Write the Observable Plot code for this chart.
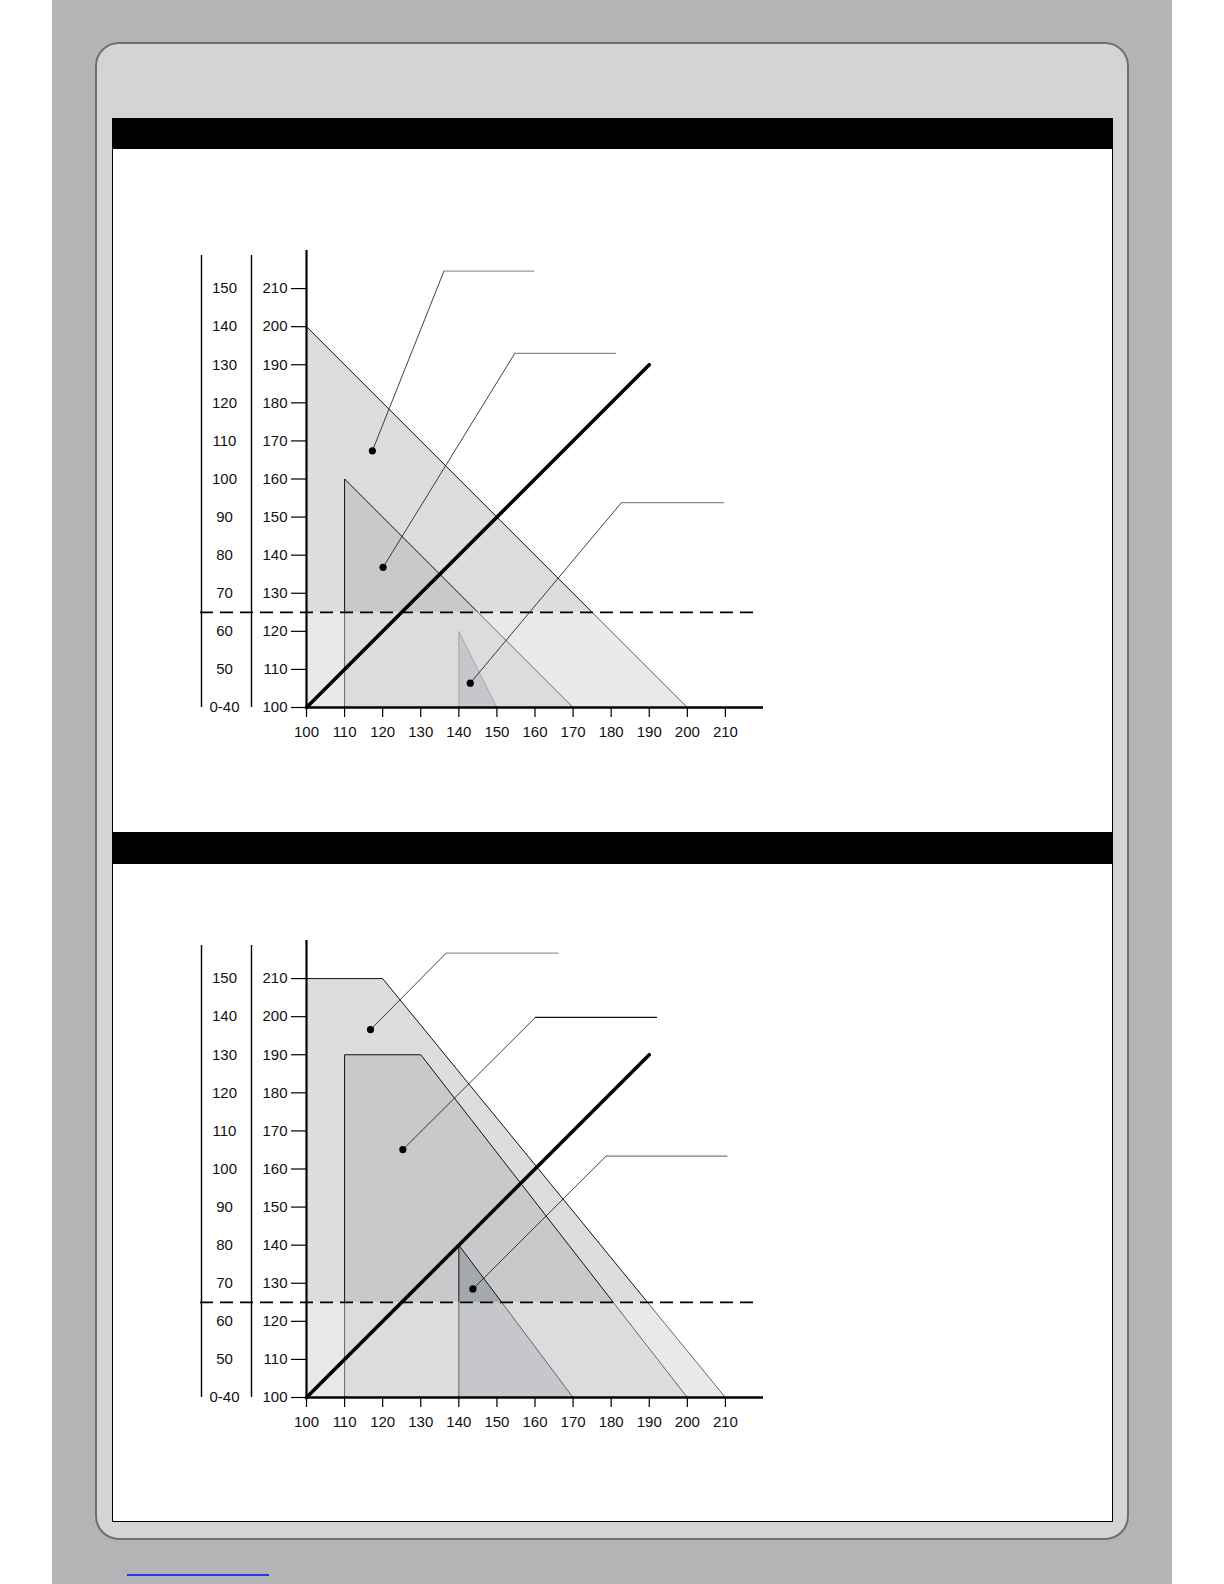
<!DOCTYPE html>
<html>
<head>
<meta charset="utf-8">
<script src="https://cdn.jsdelivr.net/npm/d3@7"></script>
<script src="https://cdn.jsdelivr.net/npm/@observablehq/plot@0.6"></script>
<style>
  html, body { margin: 0; padding: 0; background: #ffffff; }
  body { width: 1224px; height: 1584px; position: relative; overflow: hidden; font-family: "Liberation Sans", Arial, Helvetica, sans-serif; }
  .abs { position: absolute; box-sizing: border-box; }
  #page { left: 52px; top: 0; width: 1120px; height: 1584px; background: #b3b4b5; }
  #panel { left: 95px; top: 42px; width: 1034px; height: 1498px; background: #d3d4d6; border: 2.5px solid #6e6f71; border-radius: 24px; }
  .bar { left: 112px; width: 1001px; height: 31px; background: #000; }
  .white { left: 112px; width: 1001px; background: #fff; border: 1px solid #000; border-top: none; }
  #link { left: 127px; top: 1574px; width: 142px; height: 1.5px; background: #2a36e8; }
  .chart { position: absolute; }
</style>
</head>
<body>
<div class="abs" id="page"></div>
<div class="abs" id="panel"></div>
<div class="abs bar" style="top:118px"></div>
<div class="abs white" style="top:149px;height:684px"></div>
<div class="abs bar" style="top:833px"></div>
<div class="abs white" style="top:864px;height:658px"></div>
<div class="abs" id="link"></div>
<div class="chart" id="chart1" style="left:150px;top:230px"></div>
<div class="chart" id="chart2" style="left:150px;top:920px"></div>
<script>
// ---- shared axis data ----
const xTicks = [100, 110, 120, 130, 140, 150, 160, 170, 180, 190, 200, 210];
const yTicks = [100, 110, 120, 130, 140, 150, 160, 170, 180, 190, 200, 210];
const leftLabels = ["0-40", "50", "60", "70", "80", "90", "100", "110", "120", "130", "140", "150"];
const axisMin = 100;
const axisMax = 220;
const limitValue = 125;
const dashEnd = 218;
const diagonal = [[100, 100], [190, 190]];

// ---- chart 1 zones ----
const c1Large = [[100, 100], [100, 200], [200, 100], [100, 100]];
const c1Medium = [[110, 100], [110, 160], [170, 100], [110, 100]];
const c1Small = [[140, 100], [140, 120], [150, 100], [140, 100]];
const c1Callouts = [
  { dot: [117.3, 167.4], elbow: [136.1, 214.6], end: 159.7, color: "#9a9a9a" },
  { dot: [120.1, 136.8], elbow: [154.7, 193.0], end: 181.1, color: "#8a8a8a" },
  { dot: [143.0, 106.4], elbow: [182.7, 153.8], end: 209.5, color: "#8a8a8a" }
];

// ---- chart 2 zones ----
const c2Large = [[100, 100], [100, 210], [120, 210], [210, 100], [100, 100]];
const c2Medium = [[110, 100], [110, 190], [130, 190], [200, 100], [110, 100]];
const c2Small = [[140, 100], [140, 140], [170, 100], [140, 100]];
const c2Callouts = [
  { dot: [116.8, 196.6], elbow: [136.7, 216.7], end: 166.1, color: "#9a9a9a" },
  { dot: [125.3, 165.1], elbow: [160.1, 199.8], end: 191.9, color: "#111111" },
  { dot: [143.7, 128.5], elbow: [178.7, 163.4], end: 210.4, color: "#7a7a7a" }
];

const zoneFills = ["#dcdddf", "#c8c9cb", "#a5a8ac"];

function zoneMarks(poly, fill, stroke) {
  return Plot.line(poly, {x: d => d[0], y: d => d[1], fill, stroke, strokeWidth: 1, curve: "linear"});
}

function calloutMarks(callouts) {
  const marks = [];
  callouts.forEach((c) => {
    marks.push(Plot.line([c.dot, c.elbow], {x: d => d[0], y: d => d[1], stroke: "#111", strokeWidth: 0.8}));
    marks.push(Plot.line([c.elbow, [c.end, c.elbow[1]]], {x: d => d[0], y: d => d[1], stroke: c.color, strokeWidth: 1.3}));
  });
  marks.push(Plot.dot(callouts, {x: c => c.dot[0], y: c => c.dot[1], r: 3.6, fill: "#000", stroke: "none"}));
  return marks;
}

function makeChart(polys, smallStroke, callouts) {
  return Plot.plot({
    width: 650,
    height: 527,
    marginLeft: 156,
    marginRight: 37,
    marginTop: 20,
    marginBottom: 50,
    x: {domain: [axisMin, axisMax], axis: null},
    y: {domain: [axisMin, axisMax], axis: null},
    style: {fontFamily: "'Liberation Sans', Arial, Helvetica, sans-serif", background: "transparent", color: "#000", overflow: "visible"},
    marks: [
      zoneMarks(polys[0], zoneFills[0], "#111"),
      zoneMarks(polys[1], zoneFills[1], "#111"),
      zoneMarks(polys[2], zoneFills[2], smallStroke),
      // lighter band below the limit line
      Plot.rect([{a: axisMin, b: axisMax, c: axisMin, d: limitValue}], {x1: "a", x2: "b", y1: "c", y2: "d", fill: "#ffffff", fillOpacity: 0.36}),
      // left scales
      Plot.ruleX([axisMin], {y1: axisMin, y2: axisMax, dx: -105, stroke: "#000", strokeWidth: 1.4, insetBottom: -5}),
      Plot.ruleX([axisMin], {y1: axisMin, y2: axisMax, dx: -55, stroke: "#000", strokeWidth: 1.4, insetBottom: -5}),
      Plot.text(yTicks, {frameAnchor: "left", y: d => d, text: (d, i) => leftLabels[i], dx: -82, textAnchor: "middle", fontSize: 15, fill: "#111"}),
      Plot.axisY(yTicks, {anchor: "left", tickSize: 15, tickPadding: 4, fontSize: 15, stroke: "#000", strokeWidth: 1.2, fill: "#111", label: null, tickFormat: d => String(d)}),
      Plot.axisX(xTicks, {anchor: "bottom", tickSize: 10, tickPadding: 9, fontSize: 15, stroke: "#000", strokeWidth: 1.2, fill: "#111", label: null, tickFormat: d => String(d)}),
      // main axes
      Plot.ruleX([axisMin], {y1: axisMin, y2: axisMax, stroke: "#000", strokeWidth: 2.2}),
      Plot.ruleY([axisMin], {x1: axisMin, x2: axisMax, stroke: "#000", strokeWidth: 2.6}),
      // diagonal reference line
      Plot.line(diagonal, {x: d => d[0], y: d => d[1], stroke: "#000", strokeWidth: 3.6}),
      // limit dashed line
      Plot.ruleY([limitValue], {x1: axisMin, x2: dashEnd, insetLeft: -106, stroke: "#000", strokeWidth: 1.8, strokeDasharray: "13,7"}),
      ...calloutMarks(callouts)
    ]
  });
}

document.getElementById("chart1").appendChild(makeChart([c1Large, c1Medium, c1Small], "#777", c1Callouts));
document.getElementById("chart2").appendChild(makeChart([c2Large, c2Medium, c2Small], "#111", c2Callouts));
</script>
</body>
</html>
